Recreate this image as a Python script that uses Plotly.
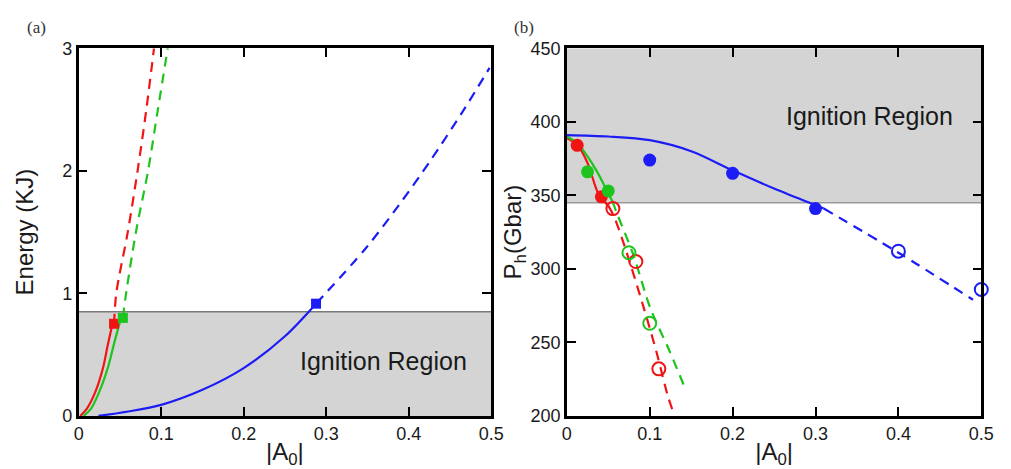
import plotly.graph_objects as go

# ---------------- panel (a): laser energy vs |A0| ----------------
red_solid_x = [0.002, 0.010, 0.0198, 0.0298, 0.035, 0.041]
red_solid_y = [0.0, 0.06, 0.19, 0.40, 0.57, 0.75]
red_dash_x = [0.0429, 0.0456, 0.0595, 0.0714, 0.082, 0.0913]
red_dash_y = [0.752, 1.0, 1.5, 2.0, 2.5, 3.0]

green_solid_x = [0.006, 0.015, 0.0246, 0.0357, 0.0429, 0.051]
green_solid_y = [0.0, 0.06, 0.19, 0.40, 0.59, 0.79]
green_dash_x = [0.0536, 0.0575, 0.0694, 0.0841, 0.096, 0.108]
green_dash_y = [0.80, 1.0, 1.5, 2.0, 2.5, 3.0]

blue_solid_x = [0.024, 0.06, 0.10, 0.15, 0.20, 0.25, 0.2877]
blue_solid_y = [0.0, 0.036, 0.09, 0.213, 0.39, 0.65, 0.916]
blue_dash_x = [0.2877, 0.347, 0.387, 0.427, 0.466, 0.498]
blue_dash_y = [0.916, 1.36, 1.71, 2.09, 2.49, 2.84]

# threshold points where each curve leaves the ignition region
thr_x = [0.0429, 0.0536, 0.2877]
thr_y = [0.752, 0.80, 0.916]

energy_ignition_limit = 0.85

# ---------------- panel (b): hot-spot pressure vs |A0| ----------------
pb_red_solid_x = [0.0, 0.013, 0.025, 0.037, 0.045, 0.050]
pb_red_solid_y = [389, 384, 372, 352.5, 346, 343]
pb_red_dash_x = [0.050, 0.0569, 0.0707, 0.0924, 0.108, 0.122, 0.130]
pb_red_dash_y = [343, 335.6, 313.7, 274.3, 243.8, 213.3, 200]

pb_green_solid_x = [0.0, 0.013, 0.025, 0.037, 0.049, 0.055]
pb_green_solid_y = [390, 385.2, 376.5, 365.6, 352.5, 346]
pb_green_dash_x = [0.055, 0.061, 0.0806, 0.1003, 0.124, 0.144]
pb_green_dash_y = [346, 337, 309, 274, 244, 217]

pb_blue_solid_x = [0.0, 0.05, 0.10, 0.15, 0.20, 0.25, 0.30, 0.31]
pb_blue_solid_y = [391, 390, 387.5, 380, 367, 354.6, 343.3, 341]
pb_blue_dash_x = [0.31, 0.40, 0.49]
pb_blue_dash_y = [341, 311, 279]

red_filled_x, red_filled_y = [0.0125, 0.0417], [384, 349]
red_open_x, red_open_y = [0.0556, 0.0833, 0.111], [341, 305, 232]
green_filled_x, green_filled_y = [0.025, 0.05], [366, 353]
green_open_x, green_open_y = [0.075, 0.10], [311, 263]
blue_filled_x, blue_filled_y = [0.10, 0.20, 0.30], [374, 365, 341]
blue_open_x, blue_open_y = [0.40, 0.50], [312, 286]

pressure_ignition_limit = 345

RED, GREEN, BLUE = "#f01414", "#1ec41e", "#1c1cf5"
FONT = "Liberation Sans, Arial, Helvetica, sans-serif"
SERIF = "Liberation Serif, Times New Roman, serif"
TXT = "#1a1a1a"
W, H = 1011, 469

fig = go.Figure()


def line(x, y, color, xa, ya, dash="solid"):
    fig.add_trace(go.Scatter(
        x=x, y=y, mode="lines", xaxis=xa, yaxis=ya, showlegend=False,
        line=dict(color=color, width=2.2, dash=dash, shape="spline", smoothing=0.9),
        hoverinfo="skip"))


def marks(x, y, color, xa, ya, symbol, size, filled=True):
    fig.add_trace(go.Scatter(
        x=x, y=y, mode="markers", xaxis=xa, yaxis=ya, showlegend=False,
        cliponaxis=False,
        marker=dict(symbol=symbol, size=size,
                    color=color if filled else "rgba(0,0,0,0)",
                    line=dict(color=color, width=0 if filled else 2))))


DASH = "10px,7px"

# panel (a)
line(red_solid_x, red_solid_y, RED, "x", "y")
line(red_dash_x, red_dash_y, RED, "x", "y", DASH)
line(green_solid_x, green_solid_y, GREEN, "x", "y")
line(green_dash_x, green_dash_y, GREEN, "x", "y", DASH)
line(blue_solid_x, blue_solid_y, BLUE, "x", "y")
line(blue_dash_x, blue_dash_y, BLUE, "x", "y", DASH)
for i, c in enumerate([RED, GREEN, BLUE]):
    marks([thr_x[i]], [thr_y[i]], c, "x", "y", "square", 10)

# panel (b)
line(pb_red_solid_x, pb_red_solid_y, RED, "x2", "y2")
line(pb_red_dash_x, pb_red_dash_y, RED, "x2", "y2", DASH)
line(pb_green_solid_x, pb_green_solid_y, GREEN, "x2", "y2")
line(pb_green_dash_x, pb_green_dash_y, GREEN, "x2", "y2", DASH)
line(pb_blue_solid_x, pb_blue_solid_y, BLUE, "x2", "y2")
line(pb_blue_dash_x, pb_blue_dash_y, BLUE, "x2", "y2", DASH)
marks(red_filled_x, red_filled_y, RED, "x2", "y2", "circle", 13)
marks(green_filled_x, green_filled_y, GREEN, "x2", "y2", "circle", 13)
marks(blue_filled_x, blue_filled_y, BLUE, "x2", "y2", "circle", 13)
marks(red_open_x, red_open_y, RED, "x2", "y2", "circle", 13, False)
marks(green_open_x, green_open_y, GREEN, "x2", "y2", "circle", 13, False)
marks(blue_open_x, blue_open_y, BLUE, "x2", "y2", "circle", 13, False)

# shaded ignition regions
shapes = [
    dict(type="rect", xref="x", yref="y", x0=0, x1=0.5, y0=0, y1=energy_ignition_limit,
         fillcolor="#d4d4d4", line_width=0, layer="below"),
    dict(type="line", xref="x", yref="y", x0=0, x1=0.5, y0=energy_ignition_limit,
         y1=energy_ignition_limit, line=dict(color="#7a7a7a", width=1.5), layer="below"),
    dict(type="rect", xref="x2", yref="y2", x0=0, x1=0.5, y0=pressure_ignition_limit, y1=450,
         fillcolor="#d4d4d4", line_width=0, layer="below"),
    dict(type="line", xref="x2", yref="y2", x0=0, x1=0.5, y0=pressure_ignition_limit,
         y1=pressure_ignition_limit, line=dict(color="#9a9a9a", width=1.5), layer="below"),
]


def axis(domain, rng, dtick, title, anchor, standoff=8):
    return dict(domain=domain, range=rng, anchor=anchor, dtick=dtick, tick0=0,
                showgrid=False, zeroline=False, showline=True, linecolor="black",
                linewidth=2.5, mirror="allticks", ticks="inside", ticklen=9,
                tickwidth=2, tickcolor="black",
                tickfont=dict(family=FONT, size=18, color=TXT),
                title=dict(text=title, font=dict(family=FONT, size=24, color=TXT),
                           standoff=standoff))


ydom = [(H - 424) / H, (H - 40) / H]
fig.update_layout(
    width=W, height=H, margin=dict(l=0, r=0, t=0, b=0),
    paper_bgcolor="white", plot_bgcolor="white",
    xaxis=axis([75 / W, 495 / W], [0, 0.5], 0.1, "|A<sub>0</sub>|", "y", standoff=2),
    yaxis=axis(ydom, [0, 3], 1, "Energy (KJ)", "x", standoff=22),
    xaxis2=axis([572 / W, 994 / W], [0, 0.5], 0.1, "|A<sub>0</sub>|", "y2", standoff=2),
    yaxis2=axis(ydom, [200, 450], 50, "P<sub>h</sub>(Gbar)", "x2", standoff=0),
    shapes=shapes,
    annotations=[
        dict(text="Ignition Region", xref="x", yref="y", x=0.37, y=0.45,
             showarrow=False, font=dict(family=FONT, size=25, color=TXT)),
        dict(text="Ignition Region", xref="x2", yref="y2", x=0.365, y=404,
             showarrow=False, font=dict(family=FONT, size=25, color=TXT)),
        dict(text="(a)", xref="paper", yref="paper", x=20 / W, y=(H - 6) / H,
             showarrow=False, font=dict(family=SERIF, size=17, color="#333")),
        dict(text="(b)", xref="paper", yref="paper", x=528 / W, y=(H - 6) / H,
             showarrow=False, font=dict(family=SERIF, size=17, color="#333")),
    ],
)

fig.write_html("out.html")
